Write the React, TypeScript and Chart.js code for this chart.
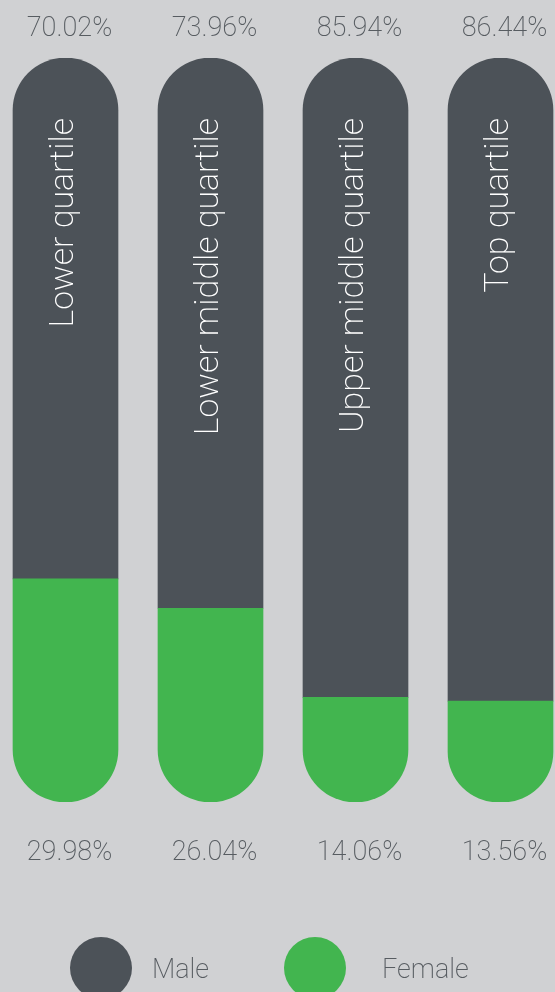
import React, { useEffect, useRef } from "react";
import { Chart, registerables } from "chart.js";

Chart.register(...registerables);

const categories = ["Lower quartile", "Lower middle quartile", "Upper middle quartile", "Top quartile"];
const maleValues = [70.02, 73.96, 85.94, 86.44];
const femaleValues = [29.98, 26.04, 14.06, 13.56];
const seriesNames = ["Male", "Female"];

const BG = "#d0d1d3";
const GREY = "#4c5258";
const GREEN = "#42b54f";
const TEXT = "#575c61";
const FONT = "Roboto, 'Liberation Sans', sans-serif";
const SHIFT = 7; // canvas starts 7px left of the page edge
const CW = 580;
const CH = 992;

export default function App() {
  const ref = useRef<HTMLCanvasElement | null>(null);

  useEffect(() => {
    document.body.style.margin = "0";
    document.body.style.background = BG;
    document.body.style.overflow = "hidden";
    document.documentElement.style.overflow = "hidden";
    const canvas = ref.current;
    if (!canvas) return;

    const labelsPlugin = {
      id: "customLabels",
      afterDatasetsDraw(chart: any) {
        const ctx = chart.ctx;
        const metaMale = chart.getDatasetMeta(1);
        const metaFemale = chart.getDatasetMeta(0);
        ctx.save();
        ctx.fillStyle = TEXT;
        ctx.font = `200 27px ${FONT}`;
        ctx.textAlign = "center";
        ctx.textBaseline = "alphabetic";
        metaMale.data.forEach((bar: any, i: number) => {
          ctx.fillText(maleValues[i].toFixed(2) + "%", bar.x + 4, 36);
        });
        metaFemale.data.forEach((bar: any, i: number) => {
          ctx.fillText(femaleValues[i].toFixed(2) + "%", bar.x + 4, 860);
        });
        ctx.fillStyle = "#ffffff";
        ctx.font = `200 34px ${FONT}`;
        metaMale.data.forEach((bar: any, i: number) => {
          ctx.save();
          ctx.translate(bar.x + 7.5, 118);
          ctx.rotate(-Math.PI / 2);
          ctx.textAlign = "right";
          ctx.textBaseline = "alphabetic";
          ctx.fillText(categories[i], 0, 0);
          ctx.restore();
        });
        const items = [
          { name: seriesNames[0], color: GREY, cx: 101 + SHIFT, tx: 152 + SHIFT },
          { name: seriesNames[1], color: GREEN, cx: 315 + SHIFT, tx: 382 + SHIFT },
        ];
        items.forEach((it) => {
          ctx.beginPath();
          ctx.fillStyle = it.color;
          ctx.arc(it.cx, 968, 31, 0, Math.PI * 2);
          ctx.fill();
          ctx.fillStyle = TEXT;
          ctx.font = `200 27px ${FONT}`;
          ctx.textAlign = "left";
          ctx.textBaseline = "alphabetic";
          ctx.fillText(it.name, it.tx, 978);
        });
        ctx.restore();
      },
    };

    const r = 52.5;
    const chart = new Chart(canvas, {
      type: "bar",
      data: {
        labels: categories,
        datasets: [
          {
            label: seriesNames[1],
            data: femaleValues,
            backgroundColor: GREEN,
            borderWidth: 0,
            borderSkipped: false,
            borderRadius: { topLeft: 0, topRight: 0, bottomLeft: r, bottomRight: r },
            barThickness: 105,
          },
          {
            label: seriesNames[0],
            data: maleValues,
            backgroundColor: GREY,
            borderWidth: 0,
            borderSkipped: false,
            borderRadius: { topLeft: r, topRight: r, bottomLeft: 0, bottomRight: 0 },
            barThickness: 105,
          },
        ],
      },
      options: {
        responsive: false,
        animation: false,
        layout: { padding: { left: 0, right: 0, top: 58, bottom: 190 } },
        plugins: {
          legend: { display: false },
          tooltip: { enabled: false },
        },
        scales: {
          x: { stacked: true, display: false },
          y: { stacked: true, display: false, min: 0, max: 100 },
        },
      },
      plugins: [labelsPlugin],
    } as any);

    return () => chart.destroy();
  }, []);

  return (
    <div style={{ position: "fixed", left: 0, top: 0, width: 555, height: 992, overflow: "hidden", background: BG }}>
      <canvas
        ref={ref}
        width={CW}
        height={CH}
        style={{ position: "absolute", left: -SHIFT, top: 0, display: "block", width: CW, height: CH }}
      />
    </div>
  );
}
